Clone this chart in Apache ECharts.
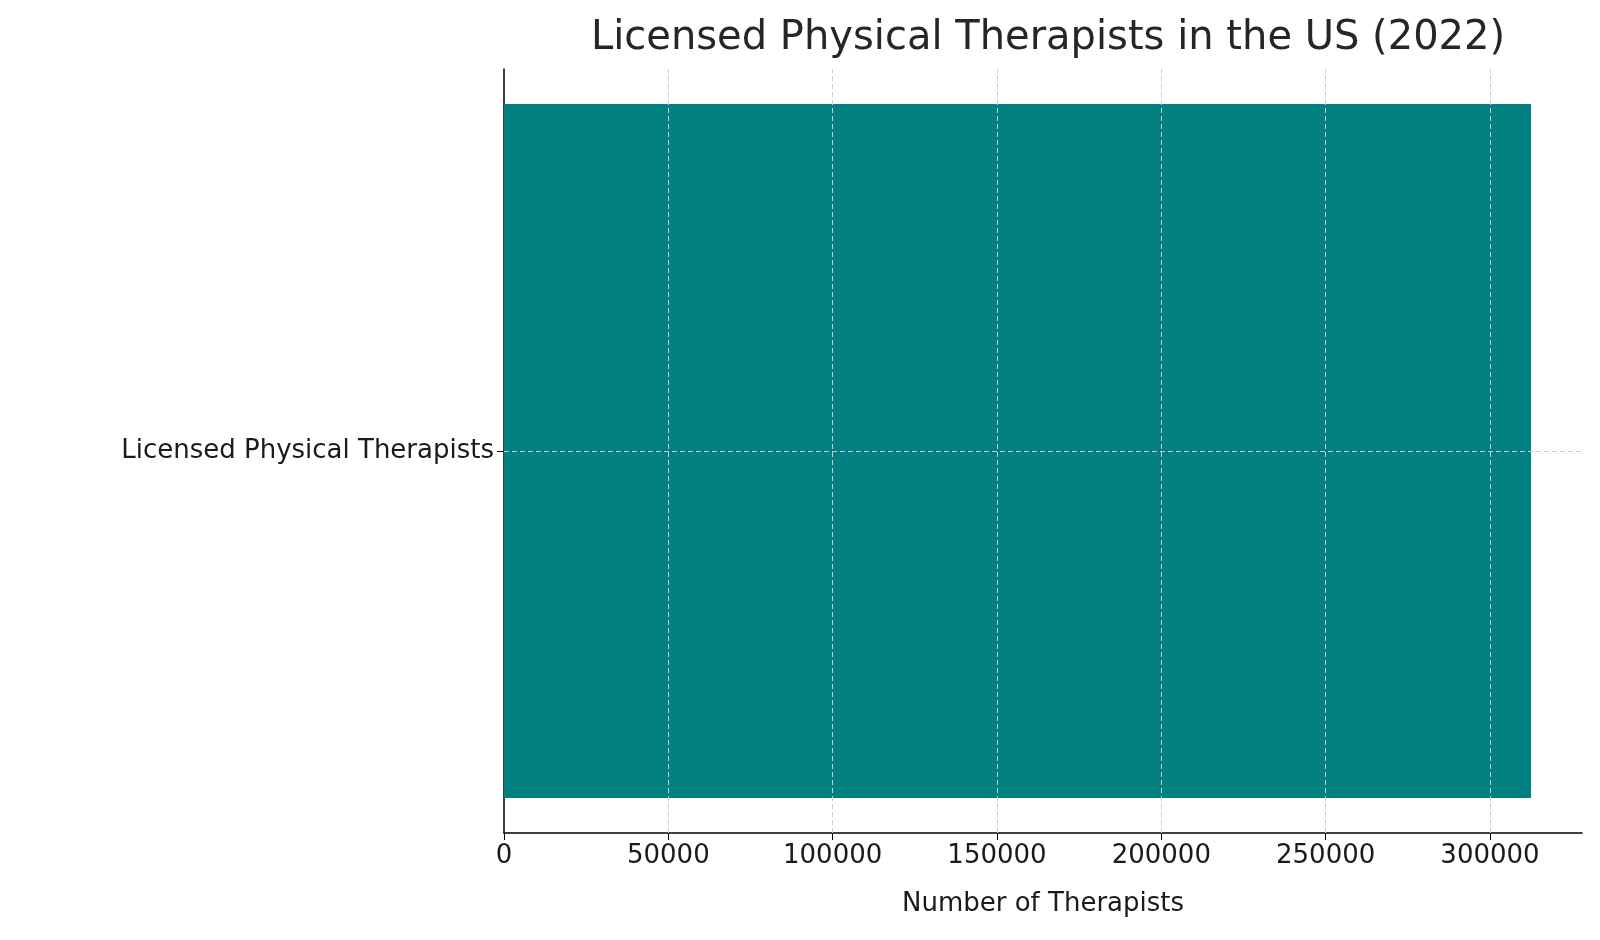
<!DOCTYPE html>
<html><head><meta charset="utf-8">
<script src="https://cdn.jsdelivr.net/npm/echarts@6/dist/echarts.min.js"></script>
<style>html,body{margin:0;padding:0;background:#fff}#c{width:1600px;height:940px}</style>
</head><body><div id="c"></div>
<script>
const categories = ['Licensed Physical Therapists'];
const values = [312500];
const xTicks = [50000, 100000, 150000, 200000, 250000, 300000];
const title = 'Licensed Physical Therapists in the US (2022)';
const xName = 'Number of Therapists';

const chart = echarts.init(document.getElementById('c'));
const grid = {color:'#cccccc', type:[5,3], width:1};
chart.setOption({
  animation:false,
  textStyle:{fontFamily:'DejaVu Sans'},
  title:{text:title, left:1043, top:14, textAlign:'center',
    textStyle:{fontSize:40, fontWeight:'normal', color:'#262626', fontFamily:'DejaVu Sans'}},
  grid:{left:504, right:18, top:69, bottom:107},
  xAxis:{type:'value', min:0, max:328000, interval:50000,
    name:xName, nameLocation:'middle', nameGap:58,
    nameTextStyle:{fontSize:26, color:'#1a1a1a'},
    axisLine:{show:true, lineStyle:{color:'#000', width:1.5}},
    axisTick:{show:true, length:7, lineStyle:{color:'#000'}},
    axisLabel:{fontSize:26, color:'#1a1a1a', margin:10, showMaxLabel:false, formatter:v=>String(v)},
    splitLine:{show:false}},
  yAxis:{type:'category', data:categories,
    axisLine:{show:true, lineStyle:{color:'#000', width:1.5}},
    axisTick:{show:true, alignWithLabel:true, length:7, lineStyle:{color:'#000'}},
    axisLabel:{fontSize:26, color:'#1a1a1a', margin:10},
    splitLine:{show:false}},
  series:[{type:'bar', data:values, barWidth:694, itemStyle:{color:'#008080'},
    markLine:{silent:true, symbol:'none', label:{show:false}, lineStyle:grid,
      data:xTicks.map(v=>({xAxis:v})).concat([{yAxis:categories[0]}])}}]
});
</script></body></html>
